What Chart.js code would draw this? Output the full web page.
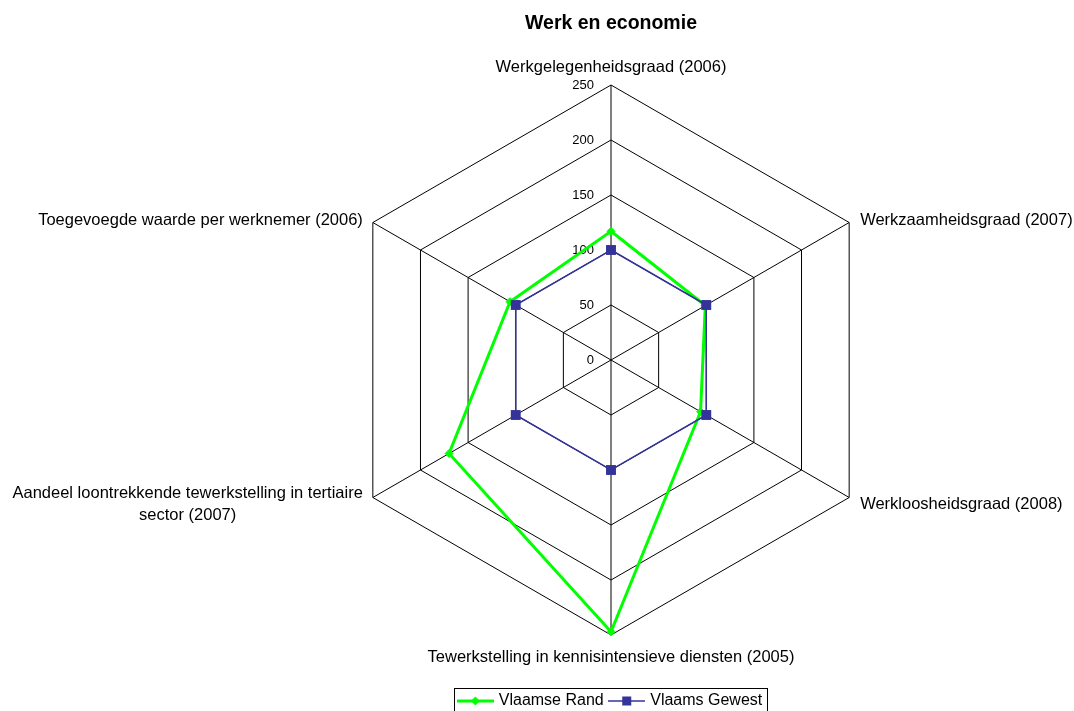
<!DOCTYPE html>
<html>
<head>
<meta charset="utf-8">
<title>Werk en economie</title>
<script src="https://cdn.jsdelivr.net/npm/chart.js@4.4.1/dist/chart.umd.min.js"></script>
<style>
  html, body { margin: 0; padding: 0; background: #fff; }
  canvas { display: block; }
</style>
</head>
<body>
<canvas id="radar" width="1074" height="711"></canvas>
<script>
// data
const categories = [
    'Werkgelegenheidsgraad (2006)',
    'Werkzaamheidsgraad (2007)',
    'Werkloosheidsgraad (2008)',
    'Tewerkstelling in kennisintensieve diensten (2005)',
    ['Aandeel loontrekkende tewerkstelling in tertiaire', 'sector (2007)'],
    'Toegevoegde waarde per werknemer (2006)'
]
const seriesNames = ['Vlaamse Rand', 'Vlaams Gewest']
const vlaamseRand = [117, 99, 94, 247, 170, 106]
const vlaamsGewest = [100, 100, 100, 100, 100, 100]
const tickValues = [0, 50, 100, 150, 200, 250]

const FONT = '"Liberation Sans", Arial, sans-serif'
const GREEN = '#00ff00'
const BLUE = '#333399'

// little "line + marker" pictures for the legend, like the excel legend
function makeIcon(color, width, marker){
    const c = document.createElement('canvas')
    c.width = 37
    c.height = 12
    const g = c.getContext('2d')
    g.strokeStyle = color
    g.fillStyle = color
    g.lineWidth = width
    g.beginPath()
    g.moveTo(0, 6)
    g.lineTo(37, 6)
    g.stroke()
    g.beginPath()
    if (marker === 'diamond'){
        g.moveTo(18.5 - 4.5, 6)
        g.lineTo(18.5, 1.5)
        g.lineTo(18.5 + 4.5, 6)
        g.lineTo(18.5, 10.5)
        g.closePath()
        g.fill()
    } else {
        g.fillRect(14, 1.5, 9, 9)
    }
    return c
}
const legendIcons = [makeIcon(GREEN, 3, 'diamond'), makeIcon(BLUE, 1.5, 'square')]

// tick labels, category labels and legend frame drawn the excel way
const excelText = {
    id: 'excelText',
    beforeDatasetsDraw(chart){
        const s = chart.scales.r
        const ctx = chart.ctx
        ctx.save()
        ctx.font = `13px ${FONT}`
        ctx.fillStyle = '#000'
        ctx.textAlign = 'right'
        ctx.textBaseline = 'middle'
        s.ticks.forEach(t => {
            const d = s.getDistanceFromCenterForValue(t.value)
            ctx.fillText(t.label ?? String(t.value), s.xCenter - 17, s.yCenter - d)
        })
        ctx.restore()
    },
    afterDraw(chart){
        const s = chart.scales.r
        const ctx = chart.ctx
        ctx.save()
        ctx.font = `16.5px ${FONT}`
        ctx.fillStyle = '#000'
        ctx.textAlign = 'center'
        ctx.textBaseline = 'middle'
        chart.data.labels.forEach((label, i) => {
            const p = s.getPointPosition(i, s.drawingArea)
            const dx = Math.cos(p.angle)
            const dy = Math.sin(p.angle)
            const lines = [].concat(label)
            const blockW = Math.max(...lines.map(l => ctx.measureText(l).width))
            let left, y
            if (Math.abs(dx) < 0.01){
                left = p.x - blockW / 2
                y = dy < 0 ? p.y - 18 : p.y + 22
            } else {
                left = dx > 0 ? p.x + 11 : p.x - 10 - blockW
                y = p.y + (dy > 0 ? 7 : -2)
            }
            lines.forEach((l, k) => {
                ctx.fillText(l, left + blockW / 2, y + (k - (lines.length - 1) / 2) * 22)
            })
        })

        // frame around the legend
        const hb = chart.legend.legendHitBoxes
        if (hb && hb.length){
            const first = hb[0]
            const last = hb[hb.length - 1]
            const mid = first.top + first.height / 2
            ctx.strokeStyle = '#000'
            ctx.lineWidth = 1
            ctx.strokeRect(Math.round(first.left - 6) + 0.5, Math.round(mid - 13) + 0.5,
                Math.round(last.left + last.width + 5 - (first.left - 6)), 40)
        }
        ctx.restore()
    }
}

const chart = new Chart(document.getElementById('radar'), {
    type: 'radar',
    data: {
        labels: categories,
        datasets: [{
            label: seriesNames[0],
            data: vlaamseRand,
            order: 1,
            borderColor: GREEN,
            backgroundColor: GREEN,
            borderWidth: 3,
            fill: false,
            pointStyle: 'rectRot',
            pointRadius: 4,
            pointBorderWidth: 1,
            pointBackgroundColor: GREEN,
            pointBorderColor: GREEN
        }, {
            label: seriesNames[1],
            data: vlaamsGewest,
            order: 0,
            borderColor: BLUE,
            backgroundColor: BLUE,
            borderWidth: 1.5,
            fill: false,
            pointStyle: 'rect',
            pointRadius: 7,
            pointBorderWidth: 0,
            pointBackgroundColor: BLUE,
            pointBorderColor: BLUE
        }]
    },
    options: {
        responsive: false,
        animation: false,
        layout: { padding: { left: 336, right: 188, top: 0, bottom: -8 } },
        elements: { line: { tension: 0 } },
        scales: {
            r: {
                min: 0,
                max: 250,
                afterBuildTicks: (scale) => { scale.ticks = tickValues.map(v => ({ value: v })) },
                ticks: { display: false, stepSize: 50 },
                grid: { color: '#000', lineWidth: 1 },
                angleLines: { color: '#000', lineWidth: 1 },
                pointLabels: { display: false }
            }
        },
        plugins: {
            title: {
                display: true,
                text: 'Werk en economie',
                color: '#000',
                font: { family: FONT, size: 19.5, weight: 'bold' },
                padding: { top: 12, bottom: -0.8 }
            },
            legend: {
                position: 'bottom',
                labels: {
                    color: '#000',
                    font: { family: FONT, size: 16 },
                    usePointStyle: true,
                    pointStyleWidth: 31,
                    padding: 7.5,
                    sort: (a, b) => a.datasetIndex - b.datasetIndex,
                    generateLabels: (c) => Chart.defaults.plugins.legend.labels.generateLabels(c)
                        .map(item => ({ ...item, pointStyle: legendIcons[item.datasetIndex] }))
                }
            },
            tooltip: { enabled: false }
        }
    },
    plugins: [excelText]
})
</script>
</body>
</html>
